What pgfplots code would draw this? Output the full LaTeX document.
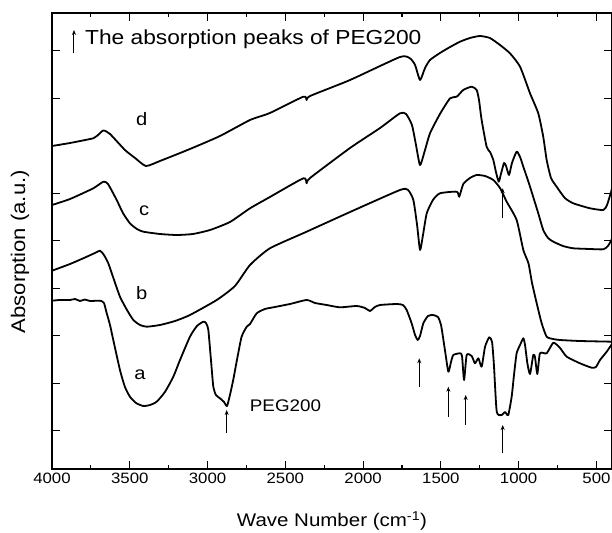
\documentclass[border=0pt]{standalone}
\usepackage{pgfplots}
\pgfplotsset{compat=1.18}
\usepackage{fontspec}
\setmainfont{Liberation Sans}[FakeStretch=1.12]
\usetikzlibrary{arrows.meta}
\begin{document}
\begin{tikzpicture}
\begin{axis}[
  scale only axis, width=560pt, height=456pt,
  at={(0,0)}, anchor=south west,
  x dir=reverse, xmin=400, xmax=4000, ymin=0, ymax=456,
  xtick={500,1000,...,4000}, minor x tick num=1,
  ytick={38.3,85.8,133.3,180.8,228.3,275.8,323.3,370.8,418.3},
  yticklabels={},
  tick align=inside, xtick pos=both, ytick pos=both,
  major tick length=8pt, minor tick length=4.5pt,
  every tick/.style={line width=1.2pt, black},
  axis line style={line width=1.6pt},
  /pgf/number format/assume math mode=true,
  /pgf/number format/1000 sep={},
  ticklabel style={font=\fontsize{15}{15}\selectfont},
  xlabel={Wave Number (cm\textsuperscript{-1})},
  ylabel={Absorption (a.u.)},
  xlabel style={font=\fontsize{18.3}{20}\selectfont, at={(axis description cs:0.5,0)}, anchor=base, yshift=-57.7pt},
  ylabel style={font=\fontsize{19.7}{20}\selectfont, at={(axis description cs:-0.0571,0.4765)}, anchor=center},
  spec/.style={black, line width=1.8pt, line join=round, no markers, smooth, tension=0.35},
]
% curve d
\addplot[spec] coordinates {(4000,323) (3884,326) (3734.5,330.7) (3711,333) (3670,338.5) (3627,335) (3531,319) (3466,311) (3396,303) (3306,308) (3113,320) (2920,333) (2727,349) (2599,356) (2384.5,372.3) (2363,369) (2341,373) (2084,389) (1763,412) (1699,410.7) (1666,404) (1634,389) (1602,401) (1570,409) (1506,416) (1441,422) (1377,427.3) (1313,431) (1249,433) (1185,431) (1120,424) (1056,415.7) (991,402.3) (927,375.7) (874,355.7) (842,332.3) (820,309) (792,291) (756,282.3) (703,271) (649,265.7) (541,260.7) (456,259) (432,264) (406,277) (400,281)};
% curve c
\addplot[spec] coordinates {(4000,264) (3884,270) (3734.5,280.7) (3670,287.3) (3640,285) (3584,269) (3544,256) (3499,245.7) (3454,240) (3413,237.3) (3306,235) (3198,234) (3094,235) (2984,239) (2856,247) (2727,260.7) (2599,272) (2384.5,290.7) (2363,285.7) (2341,291) (2084,321) (1891,341) (1763,355.7) (1724,355) (1686,344) (1660,324) (1634,304) (1602,319) (1570,335.7) (1506,355) (1441,370.7) (1398,372.3) (1356,379) (1302,382.3) (1270,379) (1255,369) (1238,349) (1206,322.3) (1184,317) (1163,309) (1146,297) (1128,287.3) (1114,295) (1094,306) (1081,303) (1062,294) (1043,306) (1013,317.3) (991,312) (970,302.3) (927,282.3) (874,255.7) (842,239) (811,231) (777,227.3) (715,223) (649,220.7) (541,220) (456,219.7) (426,223) (400,230)};
% curve b
\addplot[spec] coordinates {(4000,198.3) (3884,205) (3799,210.7) (3724,216) (3691,218.3) (3666,214) (3638,205.7) (3601,189) (3563,172.3) (3518,159) (3477,149) (3434,144) (3391,142.3) (3306,144) (3209,148) (3113,154) (2941,169) (2824,183) (2727,204) (2599,220.7) (2363,237.3) (2084,257) (1763,279) (1711,279) (1677,269) (1653,244) (1634,219) (1615,234) (1591,255.7) (1551,269) (1506,275.7) (1398,277.3) (1382,272.3) (1356,285) (1313,291) (1270,294) (1216,293) (1163,289) (1120,281) (1077,267.3) (1013,249) (970,219) (937,205.7) (914,186) (884,165.7) (852,145.7) (820,132.3) (779,130) (734,129) (606,128) (400,127.3)};
% curve a
\addplot[spec] coordinates {(4000,168.3) (3949,169) (3884,169) (3852,170) (3820,168) (3788,169.5) (3756,168) (3691,168.3) (3666,166) (3648,155.7) (3627,144) (3606,129) (3563,99) (3531,82) (3499,72.3) (3460,66) (3413,63) (3370,64) (3327,67.3) (3274,77) (3220,92.3) (3177,109) (3113,132.3) (3068,143) (3027,147.3) (3010,146) (2995,139) (2978,109) (2963,82.3) (2946,74) (2920,70.7) (2894,67) (2875,63) (2856,74) (2835,89) (2811,109) (2781,132.3) (2748,142.3) (2727,145) (2684,155.7) (2631,160) (2577,161.7) (2470,165) (2363,169) (2309,166) (2234,164) (2149,161.7) (2041,163) (1988,161) (1956,158) (1924,162) (1891,164) (1784,165) (1744,164) (1720,159) (1688,145.7) (1666,134) (1649,129) (1634,133) (1613,145.7) (1583,153) (1551,154) (1519,152) (1499,144) (1474,119) (1452,97.3) (1435,107) (1420,114) (1377,115.7) (1364,113) (1351,89) (1334,114) (1302,113) (1281,105.7) (1259,110.7) (1238,102.3) (1216,122.3) (1189,131.7) (1171,127) (1159,104) (1141,57.3) (1109,54) (1088,57) (1067,54) (1045,72.3) (1030,94) (1013,115.7) (991,124) (970,130.7) (959,124) (944,105.7) (927,95) (906,114) (895,112) (880,95) (863,115.7) (820,115.7) (777,126.3) (734,121) (691,112.3) (606,105.7) (531,101.3) (503,102) (477,109) (434,117.3) (400,125)};
% labels
\node[font=\fontsize{18}{18}\selectfont] at (axis cs:3423,349.7) {d};
\node[font=\fontsize{18}{18}\selectfont] at (axis cs:3407,258.3) {c};
\node[font=\fontsize{18}{18}\selectfont] at (axis cs:3423,176.3) {b};
\node[font=\fontsize{18}{18}\selectfont] at (axis cs:3434,94) {a};
\node[font=\fontsize{16.8}{17}\selectfont] at (axis cs:2499,63.3) {PEG200};
\node[font=\fontsize{20.3}{21}\selectfont, anchor=base west, inner sep=0pt] at (axis cs:3788,424) {The absorption peaks of PEG200};
% arrows
\draw[-{Stealth[length=5pt,width=4pt]}, line width=1pt] (axis cs:3858.6,415.7) -- (axis cs:3858.6,439);
\draw[-{Stealth[length=5pt,width=4pt]}, line width=1pt] (axis cs:2877,35.7) -- (axis cs:2877,59);
\draw[-{Stealth[length=5pt,width=4pt]}, line width=1pt] (axis cs:1639,82.3) -- (axis cs:1639,110.7);
\draw[-{Stealth[length=5pt,width=4pt]}, line width=1pt] (axis cs:1452,52.3) -- (axis cs:1452,82.3);
\draw[-{Stealth[length=5pt,width=4pt]}, line width=1pt] (axis cs:1340.5,44) -- (axis cs:1340.5,74);
\draw[-{Stealth[length=5pt,width=4pt]}, line width=1pt] (axis cs:1102.6,15.7) -- (axis cs:1102.6,44);
\draw[-{Stealth[length=5pt,width=4pt]}, line width=1pt] (axis cs:1102.6,250.7) -- (axis cs:1102.6,280.7);
\end{axis}
\pgfresetboundingbox
\path (-52pt,-63pt) rectangle (560pt,469pt);
\end{tikzpicture}
\end{document}
